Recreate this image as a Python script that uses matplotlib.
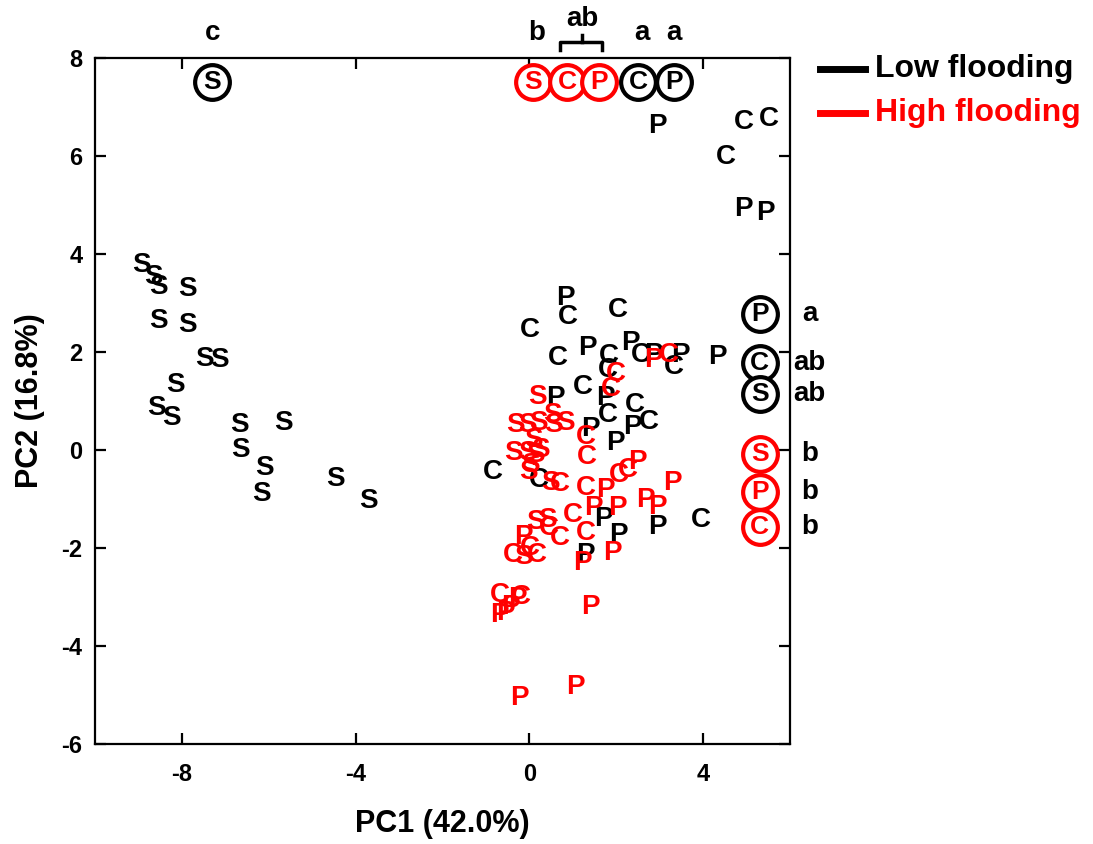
import matplotlib.pyplot as plt
from matplotlib.lines import Line2D

plt.rcParams['font.family'] = ['Liberation Sans', 'DejaVu Sans']
plt.rcParams['font.weight'] = 'bold'
plt.rcParams['axes.unicode_minus'] = False

# sample scores, low flooding (black)
low_S_x = [-8.92, -8.66, -8.53, -7.88, -8.53, -7.88, -7.49, -7.14, -8.14,
           -8.59, -8.25, -6.68, -5.65, -6.66, -6.11, -6.16, -4.47, -3.71]
low_S_y = [3.78, 3.53, 3.33, 3.29, 2.63, 2.55, 1.86, 1.84, 1.33,
           0.86, 0.65, 0.51, 0.55, 0.00, -0.37, -0.90, -0.59, -1.04]
low_C_x = [0.88, 2.03, 0.02, 0.65, 1.82, 2.56, 3.32, 1.80, 1.22,
           1.80, 2.44, 2.74, -0.83, 0.21, 3.94, 4.93, 5.51, 4.52]
low_C_y = [2.71, 2.86, 2.45, 1.88, 1.92, 1.94, 1.70, 1.63, 1.29,
           0.71, 0.92, 0.57, -0.45, -0.61, -1.43, 6.70, 6.75, 5.98]
low_P_x = [0.83, 1.34, 2.33, 2.86, 3.48, 4.33, 0.60, 1.75, 2.37,
           1.41, 1.98, 2.95, 4.93, 5.44, 2.95, 1.70, 2.05, 1.29]
low_P_y = [3.10, 2.08, 2.18, 1.94, 1.94, 1.90, 1.06, 1.06, 0.47,
           0.43, 0.14, 6.61, 4.91, 4.83, -1.57, -1.40, -1.73, -2.14]

# sample scores, high flooding (red)
high_S_x = [0.18, -0.32, -0.05, 0.21, 0.53, 0.83, 0.55, 0.09, -0.37,
            -0.05, 0.14, 0.25, 0.02, -0.02, 0.48, 0.14, 0.41, -0.14]
high_S_y = [1.08, 0.51, 0.51, 0.55, 0.71, 0.55, 0.51, 0.20, -0.06,
            -0.06, -0.10, 0.00, -0.31, -0.45, -0.67, -1.47, -1.43, -2.18]
high_C_x = [1.98, 1.88, 3.20, 1.31, 1.33, 0.71, 1.29, 2.05, 2.26,
            0.99, 0.44, 0.71, 1.29, -0.37, 0.02, 0.18, -0.67, -0.20]
high_C_y = [1.55, 1.25, 1.94, 0.27, -0.14, -0.69, -0.78, -0.51, -0.41,
            -1.33, -1.59, -1.80, -1.69, -2.14, -2.00, -2.14, -2.96, -3.00]
high_P_x = [2.86, 2.48, 1.75, 3.29, 2.67, 2.95, 1.47, 2.03, -0.14,
            1.22, 1.91, 1.41, -0.70, -0.55, -0.44, -0.28, -0.23, 1.06]
high_P_y = [1.84, -0.25, -0.82, -0.67, -1.02, -1.16, -1.18, -1.18, -1.78,
            -2.31, -2.10, -3.20, -3.36, -3.33, -3.20, -3.05, -5.06, -4.84]

# group means along PC1 (top row) and PC2 (right column)
pc1_groups = ['S', 'C', 'P', 'S', 'C', 'P']
pc1_flood = ['low', 'low', 'low', 'high', 'high', 'high']
pc1_means = [-7.30, 2.51, 3.34, 0.09, 0.87, 1.61]
pc2_groups = ['P', 'C', 'S', 'S', 'P', 'C']
pc2_flood = ['low', 'low', 'low', 'high', 'high', 'high']
pc2_means = [2.78, 1.78, 1.14, -0.08, -0.86, -1.57]
pc2_letters = ['a', 'ab', 'ab', 'b', 'b', 'b']

colors = {'low': 'black', 'high': 'red'}

fig = plt.figure(figsize=(10.93, 8.44), dpi=100)
ax = fig.add_axes([0.0869, 0.1185, 0.6359, 0.8128])

def draw_letters(xs, ys, letter, color):
    for x, y in zip(xs, ys):
        ax.text(x, y, letter, color=color, fontsize=20, fontweight='bold',
                ha='center', va='center')

draw_letters(low_S_x, low_S_y, 'S', 'black')
draw_letters(low_C_x, low_C_y, 'C', 'black')
draw_letters(low_P_x, low_P_y, 'P', 'black')
draw_letters(high_S_x, high_S_y, 'S', 'red')
draw_letters(high_C_x, high_C_y, 'C', 'red')
draw_letters(high_P_x, high_P_y, 'P', 'red')

def circled(x, y, letter, color):
    ax.plot(x, y, 'o', ms=25, mfc='white', mec=color, mew=3, zorder=3)
    ax.text(x, y, letter, color=color, fontsize=19, fontweight='bold',
            ha='center', va='center', zorder=4)

top_y = 7.5
for g, f, m in zip(pc1_groups, pc1_flood, pc1_means):
    circled(m, top_y, g, colors[f])

right_x = 5.3
for g, f, m in zip(pc2_groups, pc2_flood, pc2_means):
    circled(right_x, m, g, colors[f])

# significance letters
lab = dict(fontsize=20, fontweight='bold', ha='center', va='center',
           clip_on=False)
ax.text(-7.30, 8.51, 'c', **lab)
ax.text(0.16, 8.51, 'b', **lab)
ax.text(2.60, 8.51, 'a', **lab)
ax.text(3.32, 8.51, 'a', **lab)
ax.text(1.22, 8.80, 'ab', **lab)
ax.plot([0.71, 0.71, 1.68, 1.68], [8.16, 8.33, 8.33, 8.16], color='black',
        lw=2.5, clip_on=False, solid_joinstyle='round')
ax.plot([1.20, 1.20], [8.33, 8.47], color='black', lw=2.5, clip_on=False)
for m, t in zip(pc2_means, pc2_letters):
    ax.text(6.45, m, t, **lab)

ax.set_xlim(-10, 6)
ax.set_ylim(-6, 8)
ax.set_xticks([-8, -4, 0, 4])
ax.set_yticks([-6, -4, -2, 0, 2, 4, 6, 8])
ax.tick_params(direction='in', length=8, width=1.6, top=True, right=True,
               labelsize=17)
ax.tick_params(axis='x', pad=14)
ax.tick_params(axis='y', pad=9)
for s in ax.spines.values():
    s.set_linewidth(1.6)

ax.set_xlabel('PC1 (42.0%)', fontsize=22, fontweight='bold', labelpad=16)
ax.set_ylabel('PC2 (16.8%)', fontsize=22, fontweight='bold', labelpad=12)

# legend
for yy, name, c in [(69, 'Low flooding', 'black'), (113, 'High flooding', 'red')]:
    fy = 1 - yy / 844
    fig.add_artist(Line2D([820 / 1093, 865 / 1093], [fy, fy], color=c, lw=5))
    fig.text(875 / 1093, fy, name, color=c, fontsize=23, fontweight='bold',
             va='center', ha='left')

fig.savefig('out.png', dpi=100)
